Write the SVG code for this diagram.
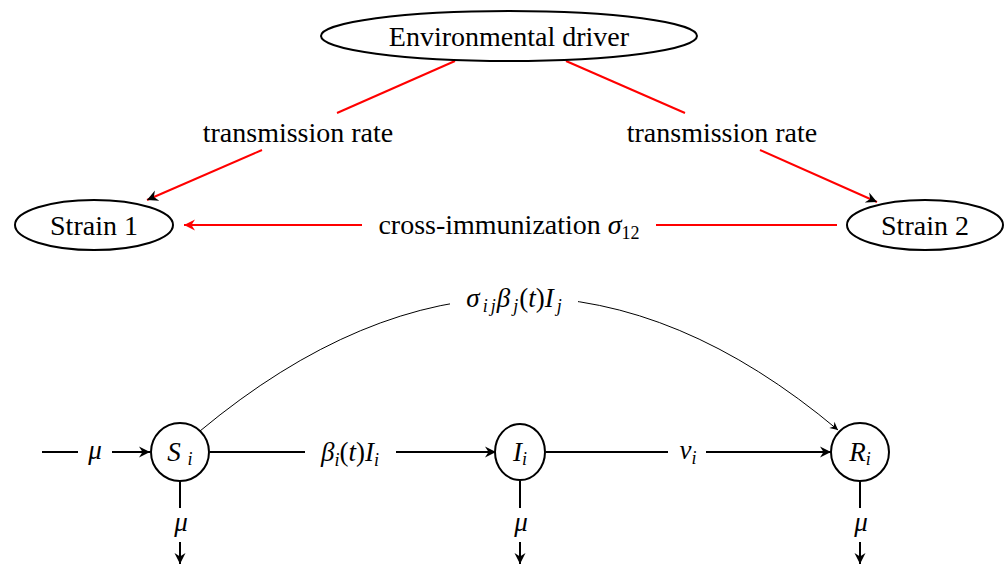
<svg xmlns="http://www.w3.org/2000/svg" width="1008" height="567" viewBox="0 0 1008 567">
<style>
.t{font-family:"Liberation Serif","Times New Roman","DejaVu Serif",serif;font-size:28px;fill:#000;text-anchor:middle}
.m{font-family:"Liberation Serif","Times New Roman","DejaVu Serif",serif;font-style:italic;font-size:27px;fill:#000;text-anchor:middle}
.up{font-style:normal}
.sub{font-size:18px}
.node{fill:#fff;stroke:#000;stroke-width:2}
.red{stroke:#f00;stroke-width:2;fill:none}
.blk{stroke:#000;stroke-width:2;fill:none}
.thin{stroke:#000;stroke-width:1;fill:none}
</style>
<defs>
<marker id="ab" viewBox="-12 -6 13 12" refX="0" refY="0" markerWidth="13" markerHeight="12" markerUnits="userSpaceOnUse" orient="auto"><path d="M0,0 L-11,-5.5 L-7.5,0 L-11,5.5 Z" fill="#000"/></marker>
<marker id="ar" viewBox="-12 -6 13 12" refX="0" refY="0" markerWidth="13" markerHeight="12" markerUnits="userSpaceOnUse" orient="auto"><path d="M0,0 L-11,-5.5 L-7.5,0 L-11,5.5 Z" fill="#f00"/></marker>
<marker id="as" viewBox="-9 -5 10 10" refX="0" refY="0" markerWidth="10" markerHeight="10" markerUnits="userSpaceOnUse" orient="auto"><path d="M0,0 L-8,-4 L-5.5,0 L-8,4 Z" fill="#000"/></marker>
</defs>
<g id="connectors">
<line class="red" x1="455" y1="61" x2="337" y2="113"/>
<line class="red" x1="262" y1="150" x2="147" y2="200" marker-end="url(#ab)"/>
<line class="red" x1="566" y1="61" x2="685" y2="113"/>
<line class="red" x1="760" y1="150" x2="877" y2="202" marker-end="url(#ab)"/>
<line class="red" x1="837" y1="225" x2="656" y2="225"/>
<line class="red" x1="362" y1="225" x2="184" y2="225" marker-end="url(#ar)"/>
<text class="t" x="298" y="142">transmission rate</text>
<text class="t" x="722" y="142">transmission rate</text>
<text class="t" x="509" y="234">cross-immunization <tspan font-style="italic">σ</tspan><tspan class="sub" dy="5">12</tspan></text>

<path class="thin" d="M200,431 Q521,164 838,430" marker-end="url(#as)"/>
<rect x="450" y="280" width="128" height="36" fill="#fff"/>
<text class="m" x="514" y="307">σ<tspan class="sub" dx="3" dy="5">i</tspan><tspan class="sub" dx="3">j</tspan><tspan dx="1" dy="-5">β</tspan><tspan class="sub" dx="3" dy="5">j</tspan><tspan class="up" dx="1" dy="-5">(</tspan>t<tspan class="up">)</tspan>I<tspan class="sub" dx="3" dy="5">j</tspan></text>

<line class="blk" x1="42" y1="452" x2="78" y2="452"/>
<text class="m" x="95" y="459">μ</text>
<line class="blk" x1="112" y1="452" x2="150" y2="452" marker-end="url(#ab)"/>

<line class="blk" x1="210" y1="452" x2="305" y2="452"/>
<text class="m" x="350" y="461">β<tspan class="sub" dy="5">i</tspan><tspan class="up" dy="-5">(</tspan>t<tspan class="up">)</tspan>I<tspan class="sub" dy="5">i</tspan></text>
<line class="blk" x1="396" y1="452" x2="496" y2="452" marker-end="url(#ab)"/>

<line class="blk" x1="546" y1="452" x2="668" y2="452"/>
<text class="m" x="688" y="459">ν<tspan class="sub" dy="5">i</tspan></text>
<line class="blk" x1="706" y1="452" x2="831" y2="452" marker-end="url(#ab)"/>

<line class="blk" x1="180" y1="481" x2="180" y2="508"/>
<text class="m" x="181" y="531">μ</text>
<line class="blk" x1="180" y1="542" x2="180" y2="564" marker-end="url(#ab)"/>
<line class="blk" x1="520" y1="481" x2="520" y2="508"/>
<text class="m" x="521" y="531">μ</text>
<line class="blk" x1="520" y1="542" x2="520" y2="564" marker-end="url(#ab)"/>
<line class="blk" x1="860" y1="481" x2="860" y2="508"/>
<text class="m" x="861" y="531">μ</text>
<line class="blk" x1="860" y1="542" x2="860" y2="564" marker-end="url(#ab)"/>
</g>
<g id="env">
<ellipse class="node" cx="509" cy="36" rx="188" ry="25"/>
<text class="t" x="509" y="46">Environmental driver</text>
</g>
<g id="strain1">
<ellipse class="node" cx="94" cy="225" rx="79" ry="25"/>
<text class="t" x="94" y="235">Strain 1</text>
</g>
<g id="strain2">
<ellipse class="node" cx="925" cy="225" rx="78" ry="25"/>
<text class="t" x="925" y="235">Strain 2</text>
</g>
<g id="S">
<circle class="node" cx="180" cy="452" r="29"/>
<text class="m" x="180" y="461">S <tspan class="sub" dy="4">i</tspan></text>
</g>
<g id="I">
<ellipse class="node" cx="520" cy="452" rx="25" ry="28"/>
<text class="m" x="520" y="461">I<tspan class="sub" dy="4">i</tspan></text>
</g>
<g id="R">
<circle class="node" cx="860" cy="452" r="29"/>
<text class="m" x="860" y="461">R<tspan class="sub" dy="4">i</tspan></text>
</g>
</svg>
